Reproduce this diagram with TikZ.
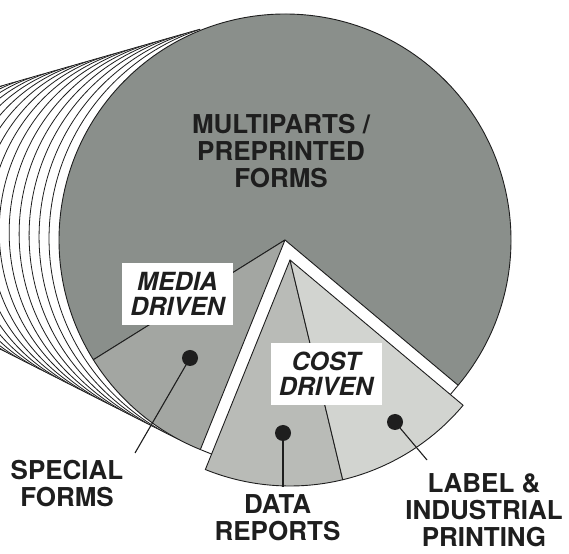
\documentclass[tikz,border=0pt]{standalone}
\usepackage{fontspec}
\setmainfont{TeX Gyre Heros}
\usetikzlibrary{calc}
\definecolor{mpgray}{RGB}{138,143,139}
\definecolor{sfgray}{RGB}{163,166,162}
\definecolor{drgray}{RGB}{185,187,183}
\definecolor{ligray}{RGB}{210,212,208}
\definecolor{ink}{RGB}{30,30,30}
\begin{document}
\begin{tikzpicture}[x=1pt,y=1pt,
  edge/.style={draw=ink, line width=0.9pt, line join=round},
  hatch/.style={draw=ink, line width=0.8pt, fill=white},
  lbl/.style={text=ink, align=center, font=\fontsize{26}{27}\selectfont\bfseries, inner sep=0pt},
  tag/.style={fill=white, text=ink, align=center, minimum width=111pt, minimum height=62pt, inner sep=0pt, font=\fontsize{25}{25}\selectfont\bfseries\itshape},
  dot/.style={circle, fill=ink, minimum size=16pt, inner sep=0pt},
  leader/.style={draw=ink, line width=1.1pt}]
\useasboundingbox (0,0) rectangle (569,553);
\coordinate (O) at (285,313);
\coordinate (W) at (290,293);
% cylinder edges
\begin{scope}
\clip (0,0) rectangle (200,553);
\foreach \k in {16,15,...,1}{
  \pgfmathsetmacro\s{1-0.0255*\k}
  \pgfmathsetmacro\cx{-332+617*\s}
  \pgfmathsetmacro\cy{372-59*\s}
  \pgfmathsetmacro\r{226*\s}
  \draw[hatch] (\cx,\cy) circle[radius=\r pt];
}
\end{scope}
% main pie
\filldraw[edge, fill=mpgray] (O) -- ++(-40:226pt) arc[start angle=-40, end angle=212, radius=226pt] -- cycle;
\filldraw[edge, fill=sfgray] (O) -- ++(212:226pt) arc[start angle=212, end angle=248, radius=226pt] -- cycle;
% exploded wedge
\filldraw[edge, fill=drgray] (W) -- ++(248:226pt) arc[start angle=248, end angle=283.5, radius=226pt] -- cycle;
\filldraw[edge, fill=ligray] (W) -- ++(283.5:226pt) arc[start angle=283.5, end angle=320, radius=226pt] -- cycle;
% gap closures
\coordinate (mA) at ($(O)+(248:226pt)$);
\coordinate (wA) at ($(W)+(248:226pt)$);
\coordinate (mB) at ($(O)+(-40:226pt)$);
\coordinate (wB) at ($(W)+(-40:226pt)$);
\draw[edge] (mA) -- ($(W)!(mA)!(wA)$);
\draw[edge] (mB) -- ($(W)!(mB)!(wB)$);
% tags
\node[tag] (media) at (177.5,259) {MEDIA\\DRIVEN};
\node[tag] (cost) at (326,179) {COST\\DRIVEN};
% labels
\node[lbl] (mp) at (281,402) {MULTIPARTS /\\PREPRINTED\\FORMS};
\node[lbl] (sf) at (67,69.5) {SPECIAL\\FORMS};
\node[lbl] (dr) at (277.5,35.5) {DATA\\REPORTS};
\node[lbl] (li) at (484,43) {LABEL \&\\INDUSTRIAL\\PRINTING};
% dots and leaders
\node[dot] (sfdot) at (190,195) {};
\coordinate (sfend) at (135,100);
\draw[leader] (sfdot.center) -- (sfend);
\node[dot] (drdot) at (283,120) {};
\coordinate (drend) at (283,66);
\draw[leader] (drdot.center) -- (drend);
\node[dot] (lidot) at (395,131) {};
\coordinate (liend) at (427,93);
\draw[leader] (lidot.center) -- (liend);
\end{tikzpicture}
\end{document}
